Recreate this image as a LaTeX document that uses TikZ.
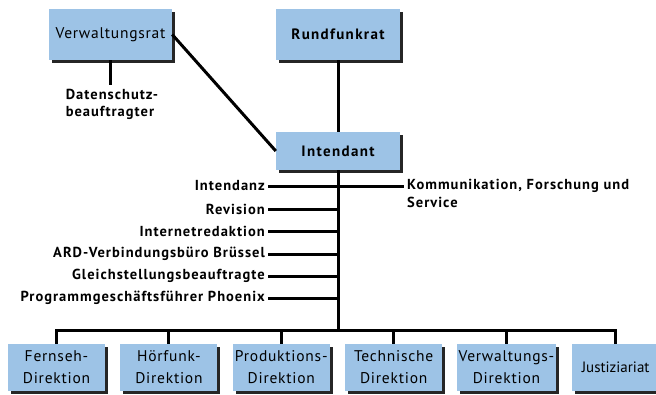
\documentclass[tikz,border=0pt]{standalone}
\usepackage{fontspec}
\setmainfont{PT Sans}
\newfontfamily\labfont{PT Sans}[LetterSpace=7]
\newfontfamily\boxfont{PT Sans}[LetterSpace=5]
\newfontfamily\headfont{PT Sans}[LetterSpace=9]
\usetikzlibrary{positioning, shadows}
\definecolor{boxblue}{RGB}{157,195,230}
\tikzset{unit/.style={fill=boxblue, minimum height=51pt, inner sep=2pt, align=center,
                      font=\headfont\bfseries\fontsize{15}{18}\selectfont,
                      drop shadow={shadow xshift=3pt, shadow yshift=-3pt, fill=black!85, opacity=1}},
         dept/.style={unit, minimum width=97pt, minimum height=47pt, font=\boxfont\fontsize{15.5}{22}\selectfont},
         staff/.style={anchor=east, inner sep=3pt, font=\labfont\bfseries\fontsize{14.5}{17}\selectfont},
         link/.style={line width=3pt},
        }

\begin{document}
\begin{tikzpicture}[x=1pt, y=-1pt]
        \useasboundingbox (0,0) rectangle (656,394);
        \node[unit, minimum width=123pt, font=\boxfont\fontsize{15.5}{18}\selectfont](vr)at(110.5,34.5){Verwaltungsrat};
        \node[unit, minimum width=124pt](rr)at(338,34.5){Rundfunkrat};
        \node[unit, minimum width=124pt, minimum height=38pt](int)at(338,151){Intendant};
        \node[align=left, font=\labfont\bfseries\fontsize{14.5}{17}\selectfont](ds)at(112,104){Datenschutz-\\beauftragter};
        \draw[link](vr.south)--(vr.south |- ds.north);
        \draw[link](vr.east)--(int.west);
        \draw[link](rr.south)--(int.north);

        \node[staff](s1)at(268,186){Intendanz};
        \node[staff](s2)at(268,209){Revision};
        \node[staff](s3)at(268,231){Internetredaktion};
        \node[staff](s4)at(268,254){ARD-Verbindungsbüro Brüssel};
        \node[staff](s5)at(268,276){Gleichstellungsbeauftragte};
        \node[staff](s6)at(268,298){Programmgeschäftsführer Phoenix};
        \node[anchor=north west, align=left, inner sep=3pt, font=\labfont\bfseries\fontsize{14.5}{18}\selectfont](kfs)at(404,176){Kommunikation, Forschung und\\Service};

        \coordinate(bus)at(338,330);
        \draw[link](int.south)--(bus);
        \draw[link](s1.east)--(s1.east -| kfs.west);
        \draw[link](s2.east)--(s2.east -| int.south);
        \draw[link](s3.east)--(s3.east -| int.south);
        \draw[link](s4.east)--(s4.east -| int.south);
        \draw[link](s5.east)--(s5.east -| int.south);
        \draw[link](s6.east)--(s6.east -| int.south);

        \node[dept](b1)at(56.5,367.5){Fernseh-\\Direktion};
        \node[dept, right=15pt of b1](b2){Hörfunk-\\Direktion};
        \node[dept, right=15pt of b2](b3){Produktions-\\Direktion};
        \node[dept, right=15pt of b3](b4){Technische\\Direktion};
        \node[dept, right=14pt of b4](b5){Verwaltungs-\\Direktion};
        \node[dept, minimum width=88pt, right=15pt of b5, font=\fontsize{15}{22}\selectfont](b6){Justiziariat};
        \draw[link](bus)-|(b1.north);
        \draw[link](bus)-|(b2.north);
        \draw[link](bus)-|(b3.north);
        \draw[link](bus)-|(b4.north);
        \draw[link](bus)-|(b5.north);
        \draw[link](bus)-|(b6.north);
    \end{tikzpicture}
\end{document}
